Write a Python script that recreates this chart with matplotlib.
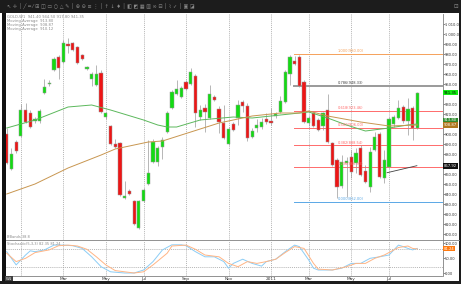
import matplotlib
matplotlib.use("Agg")
import matplotlib.pyplot as plt
from matplotlib.lines import Line2D
from matplotlib.patches import Rectangle

# weekly candles (price units)
opens = [900, 865, 892, 898, 924, 921, 913, 913, 941, 950, 964, 977, 972, 990, 991, 987, 979, 965, 955, 949,
         961, 917, 908, 890, 891, 836, 843, 833, 806, 833, 850, 872, 872, 887, 902, 926, 940, 937, 952, 950,
         958, 917, 926, 916, 937, 925, 911, 890, 910, 916, 932, 928, 897, 906, 907, 915, 913, 918, 922, 932,
         960, 973, 977, 952, 911, 921, 914, 908, 924, 891, 874, 848, 871, 877, 871, 886, 863, 847, 884, 900,
         856, 867, 910, 916, 927, 913, 926, 906]
highs = [906, 886, 894, 930, 931, 924, 917, 925, 955, 954, 977, 979, 994, 996, 992, 988, 980, 968, 962, 969,
         964, 922, 909, 895, 892, 853, 845, 834, 834, 846, 894, 895, 888, 897, 923, 944, 954, 948, 954, 966,
         960, 929, 930, 949, 939, 928, 929, 907, 912, 934, 934, 931, 906, 915, 916, 921, 926, 922, 938, 964,
         979, 978, 979, 954, 918, 923, 916, 922, 940, 892, 876, 879, 877, 884, 886, 889, 869, 887, 902, 902,
         884, 917, 919, 934, 929, 936, 928, 942]
lows = [870, 864, 881, 897, 911, 906, 911, 911, 940, 948, 963, 955, 971, 981, 983, 970, 974, 964, 948, 948,
        921, 915, 889, 886, 838, 835, 839, 809, 805, 832, 849, 871, 868, 875, 901, 925, 939, 936, 944, 949,
        907, 914, 902, 915, 933, 901, 895, 889, 903, 909, 922, 893, 896, 902, 905, 910, 909, 916, 921, 931,
        949, 969, 947, 911, 908, 907, 903, 904, 891, 868, 836, 846, 837, 856, 861, 858, 851, 842, 883, 856,
        851, 866, 907, 915, 911, 899, 894, 905]
closes = [871, 880, 883, 924, 912, 907, 915, 923, 947, 951, 975, 966, 991, 988, 984, 971, 975, 967, 960, 960,
          922, 921, 890, 887, 839, 838, 840, 810, 833, 844, 861, 892, 886, 894, 921, 942, 945, 946, 945, 962,
          921, 924, 922, 940, 934, 912, 896, 905, 904, 929, 928, 896, 903, 909, 912, 912, 911, 920, 933, 962,
          977, 970, 948, 912, 916, 908, 904, 921, 892, 869, 847, 872, 873, 862, 881, 859, 852, 882, 897, 857,
          874, 915, 917, 926, 913, 925, 906, 941]

# moving averages (bar index, value)
ma_fast_idx = [0, 6, 13, 18, 22, 29, 32, 34, 36, 41, 48, 52, 58, 62, 64, 68, 72, 76, 81, 85, 87]
ma_fast = [906, 914, 927, 929, 924, 914, 909, 907, 907, 914, 917, 916, 919, 921, 922, 916, 909, 903, 906, 909, 910]
ma_slow_idx = [0, 6, 13, 20, 23, 30, 33, 37, 45, 52, 58, 62, 64, 68, 75, 81, 87]
ma_slow = [840, 850, 866, 879, 885, 892, 893, 899, 911, 918, 921, 921, 923, 918, 912, 908, 909]

# stochastic main / signal
stoch_k_idx = [0, 2, 4, 5, 6, 8, 10, 12, 14, 16, 18, 20, 22, 25, 27, 29, 31, 33, 35, 37, 38, 40, 42, 44, 46,
               47, 48, 50, 52, 54, 55, 57, 59, 61, 62, 64, 65, 66, 69, 71, 73, 75, 77, 79, 81, 83, 84, 85, 86, 87]
stoch_k = [71, 27, 60, 74, 71, 77, 93, 93, 91, 82, 54, 21, 4, 0, 0, 10, 38, 77, 94, 94, 91, 71, 54, 54, 38,
           16, 32, 46, 32, 23, 38, 46, 71, 93, 88, 43, 16, 10, 10, 16, 32, 32, 49, 54, 60, 93, 88, 82, 77, 82]
stoch_d_idx = [0, 2, 4, 6, 9, 11, 13, 15, 17, 19, 21, 23, 27, 29, 31, 34, 35, 38, 40, 42, 45, 47, 49, 51, 53,
               55, 57, 59, 61, 63, 65, 66, 69, 72, 74, 76, 78, 80, 83, 85, 86, 87]
stoch_d = [66, 38, 49, 68, 77, 91, 93, 90, 79, 54, 27, 8, 0, 4, 27, 66, 90, 93, 79, 60, 54, 32, 21, 38, 32,
           38, 46, 68, 88, 82, 32, 13, 10, 21, 32, 32, 49, 60, 85, 90, 82, 80]

# fibonacci retracement + trend line
fib_low, fib_high = 832.0, 980.0
fib_levels = [1.0, 0.786, 0.618, 0.5, 0.382, 0.236, 0.0]
fib_colors = ["#f5a15a", "#9a9a9a", "#ff6b6b", "#ff6b6b", "#ff6b6b", "#ff6b6b", "#5aa8e6"]
fib_start = 60.9
trend_idx = [80.6, 86.9]
trend_px = [861.3, 868.3]

grid_idx = [3, 12, 21, 29, 38, 47, 56, 64, 73, 81]
grid_labels = ["", "Mar", "May", "Jul", "Sep", "Nov", "2011", "Mar", "May", "Jul"]

# price tags drawn over the axis (value, text, background, text colour)
tag_vals = [941.35, 913.80, 908.87, 867.92]
tag_bg = ["#12ee12", "#2e8b2e", "#b07820", "#111111"]
tag_fg = ["black", "white", "white", "white"]

W, H = 461, 284
fig = plt.figure(figsize=(W / 100, H / 100), dpi=100, facecolor="white")

def fx(px):
    return px / W

def fy(py):
    return 1 - py / H

x0, x1 = 5.7, 442.5
ax = fig.add_axes([fx(x0), fy(239.5), fx(x1 - x0), fy(13.5) - fy(239.5)])
axo = fig.add_axes([fx(x0), fy(275.7), fx(x1 - x0), fy(241) - fy(275.7)])

xmin = (x0 - 6.7) / 4.72
xmax = (x1 - 6.7) / 4.72
gray_txt = "#303030"

# candles
n = len(opens)
for i in range(n):
    o, h, l, c = opens[i], highs[i], lows[i], closes[i]
    col = "#12dc12" if c >= o else "#ee1515"
    ax.vlines(i, l, h, color="#9a9a9a", lw=0.5, zorder=2)
    lo = min(o, c)
    hh = max(abs(c - o), 0.8)
    ax.bar(i, hh, bottom=lo, width=0.68, color=col, edgecolor="#9a9a9a", linewidth=0.35, zorder=3)

ax.plot(ma_fast_idx, ma_fast, color="#5cb85c", lw=0.7, zorder=4)
ax.plot(ma_slow_idx, ma_slow, color="#c89650", lw=0.7, zorder=4)

for lev, col in zip(fib_levels, fib_colors):
    p = fib_low + lev * (fib_high - fib_low)
    ax.plot([fib_start, xmax], [p, p], color=col, lw=1.4 if lev == 0.786 else 0.7, zorder=1)
    tcol = "#404040" if lev == 0.786 else col
    ax.text(70.2, p + 0.8, f"{lev:.3f}({p:.2f})", color=tcol, fontsize=2.6, va="bottom", ha="left", zorder=5)

ax.plot(trend_idx, trend_px, color="#404040", lw=0.6, zorder=5)

for g in grid_idx:
    ax.axvline(g, color="#9a9a9a", lw=0.5, ls=(0, (1.5, 1.5)), zorder=0)
    axo.axvline(g, color="#9a9a9a", lw=0.5, ls=(0, (1.5, 1.5)), zorder=0)

ax.set_xlim(xmin, xmax)
ax.set_ylim(1034 - 239.5, 1034 - 13.5)
ticks = list(range(800, 1011, 10))
ax.set_yticks(ticks)
labels = []
for t in ticks:
    covered = any(abs(t - v) < 5 for v in tag_vals)
    labels.append("" if covered else f"{t:,.2f}".replace(",", " "))
ax.set_yticklabels(labels)
ax.yaxis.tick_right()
ax.tick_params(axis="y", labelsize=2.6, length=1.3, width=0.4, pad=0.6, colors=gray_txt)
ax.set_xticks([])
for s in ["top", "left", "bottom"]:
    ax.spines[s].set_visible(False)
ax.spines["right"].set_color("#808080")
ax.spines["right"].set_linewidth(0.6)

for v, bg, fg in zip(tag_vals, tag_bg, tag_fg):
    ax.text(1.003, v, f"{v:.2f}", transform=ax.get_yaxis_transform(), fontsize=2.7, color=fg, va="center",
            ha="left", clip_on=False, zorder=6,
            bbox=dict(boxstyle="square,pad=0.18", fc=bg, ec="none"))

ax.text(0.004, 0.995, "GOLD,W1  941.40 944.50 917.80 941.35", transform=ax.transAxes,
        fontsize=2.7, color="#8a8a8a", va="top")
ax.text(0.004, 0.975, "Moving Average  913.80", transform=ax.transAxes, fontsize=2.7, color="#8a8a8a", va="top")
ax.text(0.004, 0.957, "Moving Average  908.87", transform=ax.transAxes, fontsize=2.7, color="#8a8a8a", va="top")
ax.text(0.004, 0.939, "Moving Average  910.12", transform=ax.transAxes, fontsize=2.7, color="#8a8a8a", va="top")
ax.text(0.002, 0.004, "BBands 38.8", transform=ax.transAxes, fontsize=2.6, color="#8a8a8a", va="bottom")

# stochastic panel
axo.axhline(80, color="#9a9a9a", lw=0.5, ls=(0, (1.5, 1.5)))
axo.axhline(20, color="#9a9a9a", lw=0.5, ls=(0, (1.5, 1.5)))
axo.plot(stoch_k_idx, stoch_k, color="#8ccdf5", lw=0.7)
axo.plot(stoch_d_idx, stoch_d, color="#ffb585", lw=0.7)
axo.set_xlim(xmin, xmax)
axo.set_ylim(-9, 106.7)
axo.set_yticks([0, 50, 100])
axo.set_yticklabels(["0.00", "50.00", "100.00"])
axo.yaxis.tick_right()
axo.tick_params(axis="y", labelsize=2.6, length=1.3, width=0.4, pad=0.6, colors=gray_txt)
axo.set_xticks(grid_idx)
axo.set_xticklabels(grid_labels)
axo.tick_params(axis="x", labelsize=3.1, length=0, pad=1.2, colors=gray_txt)
for s in ["top", "left"]:
    axo.spines[s].set_visible(False)
for s in ["right", "bottom"]:
    axo.spines[s].set_color("#808080")
    axo.spines[s].set_linewidth(0.6)
axo.text(1.003, 81.2, "81.24", transform=axo.get_yaxis_transform(), fontsize=2.7, color="white",
         va="center", ha="left", clip_on=False, bbox=dict(boxstyle="square,pad=0.18", fc="#ff7a10", ec="none"))
axo.text(0.004, 0.97, "Stochastic(5,3,3) 82.35 81.24", transform=axo.transAxes, fontsize=2.6,
         color="#8a8a8a", va="top")

# window chrome
fig.add_artist(Rectangle((0, fy(13)), 1, 1 - fy(13), transform=fig.transFigure, fc="#1c1c1c", ec="none"))
fig.add_artist(Rectangle((fx(2.3), 0), fx(3.4), fy(13), transform=fig.transFigure, fc="#111111", ec="none"))
fig.add_artist(Rectangle((fx(459.3), 0), fx(1.7), 1, transform=fig.transFigure, fc="#1c1c1c", ec="none"))
fig.add_artist(Rectangle((0, 0), 1, fy(281), transform=fig.transFigure, fc="#1c1c1c", ec="none"))
fig.add_artist(Line2D([fx(x0), fx(459.3)], [fy(240.3), fy(240.3)], transform=fig.transFigure,
                      color="#808080", lw=0.6))
fig.text(fx(7), fy(6.5), "↖ ✛ │ ╱ ═ ⁄ ⊞ ◫ ▭ ○ △ ✎ │ ⊕ ⊖ ≡ ⋮ │ ↑ ↓ ♦ │ ◧ ◩ ▦ ▥ ∞ ⊟ │ ⌇ ✓ │ ▣ ◪",
         fontsize=3.6, color="#8a8a8a", va="center")
fig.text(fx(453), fy(6.5), "⊡", fontsize=4, color="#8a8a8a", va="center")
fig.text(fx(6), fy(278.5), "W1", fontsize=2.8, color="white", va="center",
         bbox=dict(boxstyle="square,pad=0.15", fc="#404040", ec="none"))

fig.savefig("out.png", dpi=100, facecolor="white")
